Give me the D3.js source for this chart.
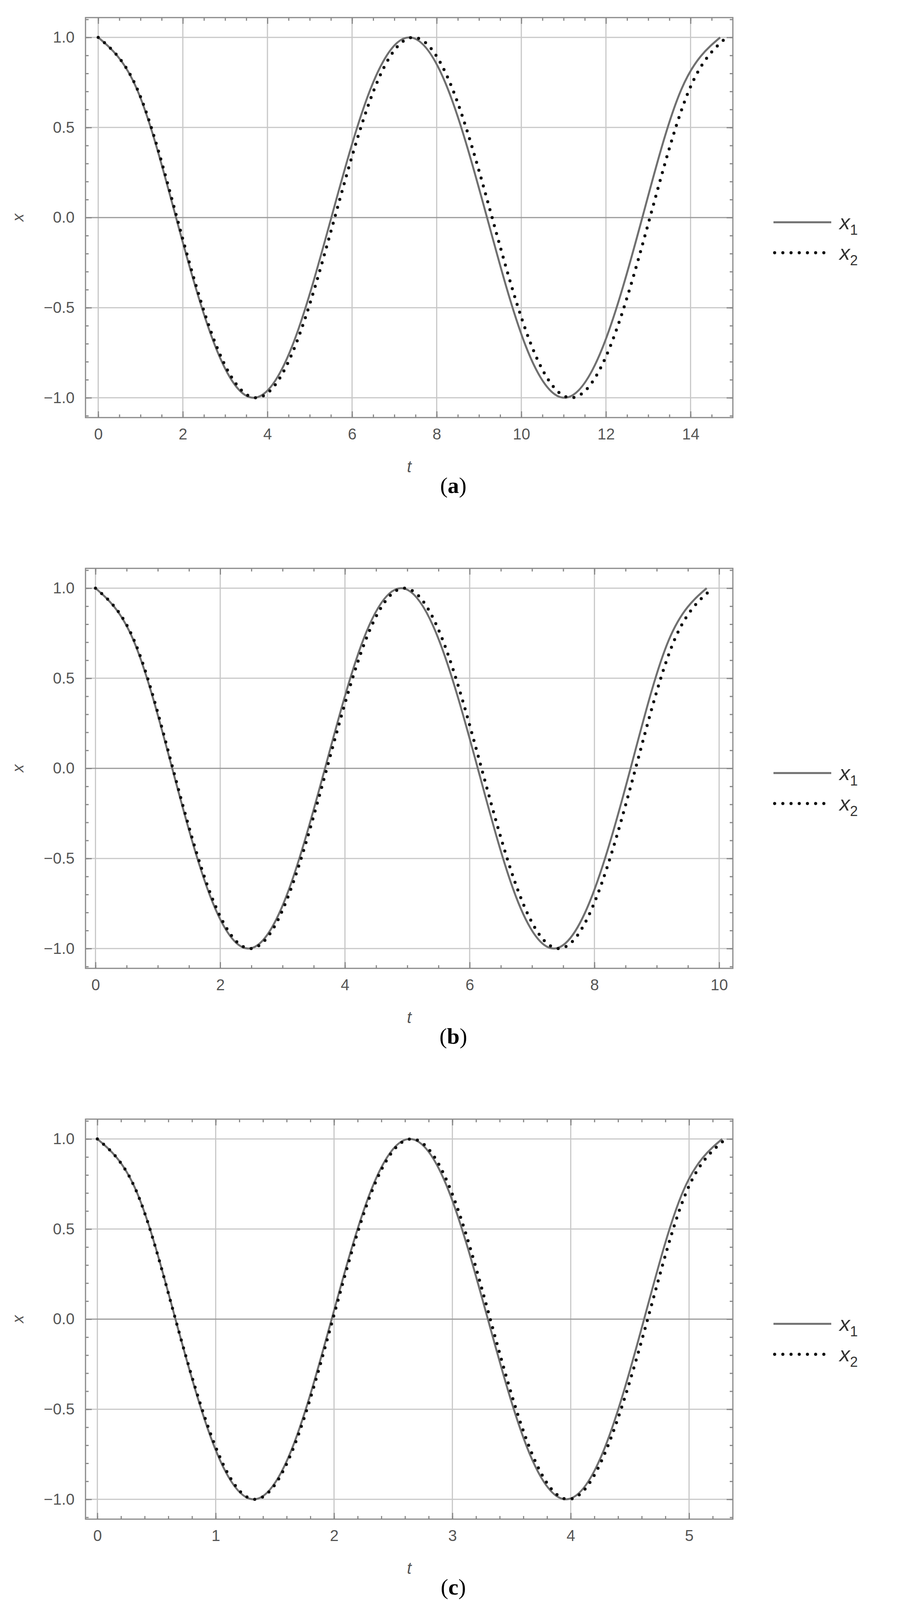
<!DOCTYPE html>
<html><head><meta charset="utf-8">
<script src="https://cdn.jsdelivr.net/npm/d3@7"></script>
<style>body{margin:0;background:#fff}</style>
</head><body>
<svg id="chart" width="2323" height="4207"></svg>
<script>
// values: samples every 1/8 period
var cosVals = [1,.71,0,-.71,-1,-.71,0,.71,1,.71,0,-.71,-1,-.71,0,.71,1]

var tA1 = [0,0.92,1.84,2.76,3.67,4.59,5.51,6.43,7.35,8.27,9.19,10.1,11.02,11.94,12.86,13.78,14.7]
var tA2 = [0,0.93,1.86,2.79,3.73,4.66,5.59,6.52,7.45,8.38,9.31,10.24,11.18,12.11,13.04,13.97,14.85]
var tB1 = [0,0.61,1.23,1.84,2.45,3.06,3.68,4.29,4.9,5.51,6.13,6.74,7.35,7.96,8.58,9.19,9.8]
var tB2 = [0,0.62,1.24,1.86,2.48,3.09,3.71,4.33,4.95,5.57,6.19,6.81,7.43,8.04,8.66,9.28,9.9]
var tC1 = [0,0.33,0.66,0.99,1.32,1.65,1.98,2.31,2.64,2.97,3.3,3.63,3.96,4.29,4.62,4.95,5.28]
var tC2 = [0,0.33,0.66,1.0,1.33,1.66,1.99,2.32,2.655,2.99,3.32,3.65,3.98,4.31,4.65,4.98,5.31]

var xTicksA = [0,2,4,6,8,10,12,14]
var xTicksB = [0,2,4,6,8,10]
var xTicksC = [0,1,2,3,4,5]
var yTicks = [-1,-0.5,0,0.5,1]
var captions = ["a","b","c"]

var panels = [
  {t1:tA1, t2:tA2, dom:[-0.3,15.0], ticks:xTicksA, minor:0.5},
  {t1:tB1, t2:tB2, dom:[-0.16,10.22], ticks:xTicksB, minor:0.5},
  {t1:tC1, t2:tC2, dom:[-0.1,5.37], ticks:xTicksC, minor:0.2}
]

var svg = d3.select('#chart')
var L = 219, R = 1877, T = 45, B = 1069, step = 1410

panels.forEach(function(p, i){
  var g = svg.append('g').attr('transform','translate(0,'+(i*step)+')')
  var x = d3.scaleLinear().domain(p.dom).range([L,R])
  var y = d3.scaleLinear().domain([-1.11,1.11]).range([B,T])

  // grid
  g.selectAll('.vg').data(p.ticks).enter().append('line')
    .attr('x1',function(d){return x(d)}).attr('x2',function(d){return x(d)})
    .attr('y1',T).attr('y2',B).attr('stroke','#c8c8c8').attr('stroke-width',3)
  g.selectAll('.hg').data(yTicks).enter().append('line')
    .attr('y1',function(d){return y(d)}).attr('y2',function(d){return y(d)})
    .attr('x1',L).attr('x2',R)
    .attr('stroke',function(d){return d==0?'#999':'#c8c8c8'}).attr('stroke-width',3)

  // frame with inward ticks
  g.append('rect').attr('x',L).attr('y',T).attr('width',R-L).attr('height',B-T)
    .attr('fill','none').attr('stroke','#888').attr('stroke-width',3)
  var minorX = d3.range(Math.ceil(p.dom[0]/p.minor)*p.minor, p.dom[1], p.minor)
  var minorY = d3.range(-1.1,1.11,0.1)
  g.append('g').attr('transform','translate(0,'+B+')')
    .call(d3.axisBottom(x).tickValues(minorX).tickSize(-8).tickFormat(''))
  g.append('g').attr('transform','translate(0,'+T+')')
    .call(d3.axisTop(x).tickValues(minorX).tickSize(-8).tickFormat(''))
  g.append('g').attr('transform','translate(0,'+B+')')
    .call(d3.axisBottom(x).tickValues(p.ticks).tickSize(-16).tickPadding(28).tickFormat(d3.format('d')))
  g.append('g').attr('transform','translate(0,'+T+')')
    .call(d3.axisTop(x).tickValues(p.ticks).tickSize(-16).tickFormat(''))
  g.append('g').attr('transform','translate('+L+',0)')
    .call(d3.axisLeft(y).tickValues(minorY).tickSize(-8).tickFormat(''))
  g.append('g').attr('transform','translate('+R+',0)')
    .call(d3.axisRight(y).tickValues(minorY).tickSize(-8).tickFormat(''))
  g.append('g').attr('transform','translate('+L+',0)')
    .call(d3.axisLeft(y).tickValues(yTicks).tickSize(-16).tickPadding(28)
      .tickFormat(function(d){return d3.format('.1f')(d).replace('-','\u2212')}))
  g.append('g').attr('transform','translate('+R+',0)')
    .call(d3.axisRight(y).tickValues(yTicks).tickSize(-16).tickFormat(''))
  g.selectAll('.domain').remove()
  g.selectAll('.tick line').attr('stroke','#888').attr('stroke-width',3)
  g.selectAll('.tick text').attr('fill','#555').style('font-family','Liberation Sans, Arial')
    .style('font-size','40px')

  var line = d3.line().curve(d3.curveNatural)
    .x(function(d){return x(d[0])}).y(function(d){return y(d[1])})
  g.append('path').attr('d',line(d3.zip(p.t1,cosVals)))
    .attr('fill','none').attr('stroke','#707070').attr('stroke-width',5)
  g.append('path').attr('d',line(d3.zip(p.t2,cosVals)))
    .attr('fill','none').attr('stroke','#111').attr('stroke-width',8)
    .attr('stroke-linecap','round').attr('stroke-dasharray','0 21')

  // axis labels
  g.append('text').attr('x',60).attr('y',y(0)).attr('text-anchor','middle')
    .attr('transform','rotate(-90,60,'+y(0)+')')
    .style('font-family','Liberation Sans, Arial').style('font-style','italic')
    .style('font-size','40px').attr('fill','#555').text('x')
  g.append('text').attr('x',(L+R)/2).attr('y',B+140).attr('text-anchor','middle')
    .style('font-family','Liberation Sans, Arial').style('font-style','italic')
    .style('font-size','42px').attr('fill','#555').text('t')

  // legend
  var ly1 = 569, ly2 = 647
  g.append('line').attr('x1',1981).attr('x2',2129).attr('y1',ly1).attr('y2',ly1)
    .attr('stroke','#707070').attr('stroke-width',5)
  g.append('line').attr('x1',1984).attr('x2',2129).attr('y1',ly2).attr('y2',ly2)
    .attr('stroke','#111').attr('stroke-width',8).attr('stroke-linecap','round')
    .attr('stroke-dasharray','0 21')
  ;[['1',ly1],['2',ly2]].forEach(function(s){
    var tx = g.append('text').attr('x',2150).attr('y',s[1]+18)
      .style('font-family','Liberation Sans, Arial').style('font-style','italic')
      .style('font-size','54px').attr('fill','#333')
    tx.append('tspan').text('x')
    tx.append('tspan').attr('dy',14).style('font-size','36px').style('font-style','normal').text(s[0])
  })

  // caption
  var cap = g.append('text').attr('x',1161).attr('y',1262).attr('text-anchor','middle')
    .style('font-family','Liberation Serif, Times New Roman').style('font-size','58px').attr('fill','#000')
  cap.append('tspan').text('(')
  cap.append('tspan').style('font-weight','bold').text(captions[i])
  cap.append('tspan').text(')')
})
</script>
</body></html>
